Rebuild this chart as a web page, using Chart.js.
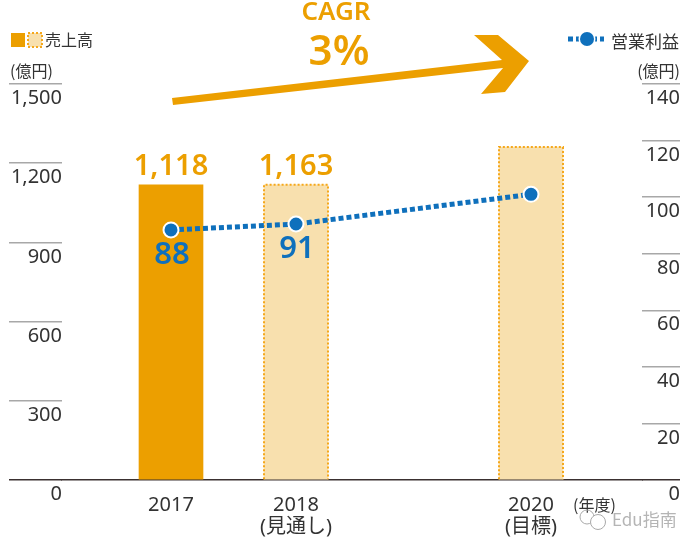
<!DOCTYPE html>
<html>
<head>
<meta charset="utf-8">
<style>
html, body { margin: 0; padding: 0; background: #fff; }
canvas { display: block; }
</style>
<script src="https://cdn.jsdelivr.net/npm/chart.js@4"></script>
</head>
<body>
<canvas id="chart" width="700" height="551"></canvas>
<script>
var FONT = '"Noto Sans", "Noto Sans CJK JP", sans-serif';
var JP = '"Noto Sans CJK JP", sans-serif';
var ORANGE = "#ec9f00";
var PALE = "#f8e0ae";
var DOT = "#f5a81c";
var BLUE = "#0f70bc";
var TEXT = "#333333";

// x is a year axis, 2020 is drawn a bit closer than true spacing in the picture
var years = [2017, 2018, 2019.88];
var yearLabels = [["2017"], ["2018", "(見通し)"], ["2020", "(目標)"]];

// bar heights as drawn (the 2018 bar is drawn level with 2017 in the picture)
var salesBars = [1118, 1118, 1261];
var salesLabels = ["1,118", "1,163", ""];
var profit = [88.4, 90.5, 101];
var profitLabels = ["88", "91", ""];

var leftTicks = [0, 300, 600, 900, 1200, 1500];
var rightTicks = [0, 20, 40, 60, 80, 100, 120, 140];

function pairs(ys) {
    return ys.map(function (y, i) { return { x: years[i], y: y }; });
}

function text(ctx, str, x, y, font, color, align) {
    ctx.font = font;
    ctx.fillStyle = color;
    ctx.textAlign = align || "left";
    ctx.textBaseline = "middle";
    ctx.fillText(str, x, y);
}

function tickColor(c) {
    return c.tick.value === 0 ? "#3a3030" : "#a8a8a8";
}

function setTicks(list) {
    return function (axis) {
        axis.ticks = list.map(function (v) { return { value: v }; });
    };
}

// dotted outline for the forecast bars, drawn before the line goes on top
var barOutline = {
    id: "barOutline",
    afterDatasetDraw: function (chart, args) {
        if (args.index !== 1) return;
        var ctx = chart.ctx;
        args.meta.data.forEach(function (bar, i) {
            if (i === 0) return;
            var left = bar.x - bar.width / 2, right = bar.x + bar.width / 2;
            ctx.save();
            ctx.strokeStyle = DOT;
            ctx.lineWidth = 2;
            ctx.setLineDash([2, 2]);
            ctx.beginPath();
            ctx.moveTo(left, bar.base);
            ctx.lineTo(left, bar.y);
            ctx.lineTo(right, bar.y);
            ctx.lineTo(right, bar.base);
            ctx.stroke();
            ctx.restore();
        });
    }
};

var extras = {
    id: "extras",
    afterDraw: function (chart) {
        var ctx = chart.ctx;
        ctx.save();

        // value labels
        var bars = chart.getDatasetMeta(1).data;
        var pts = chart.getDatasetMeta(0).data;
        salesLabels.forEach(function (s, i) {
            if (s) text(ctx, s, bars[i].x, bars[i].y - 18, "600 29px " + FONT, ORANGE, "center");
        });
        profitLabels.forEach(function (s, i) {
            if (s) text(ctx, s, pts[i].x + 1, pts[i].y + 25, "600 31px " + FONT, BLUE, "center");
        });

        // CAGR arrow
        ctx.fillStyle = ORANGE;
        ctx.beginPath();
        ctx.moveTo(172, 98);
        ctx.lineTo(502, 60);
        ctx.lineTo(474, 35);
        ctx.lineTo(498, 35);
        ctx.lineTo(529, 61);
        ctx.lineTo(505, 92);
        ctx.lineTo(481, 94);
        ctx.lineTo(503, 68);
        ctx.lineTo(173, 105);
        ctx.closePath();
        ctx.fill();
        text(ctx, "CAGR", 336, 13, "600 26px " + FONT, ORANGE, "center");
        text(ctx, "3%", 339, 53, "600 42px " + FONT, ORANGE, "center");

        // left legend
        ctx.fillStyle = ORANGE;
        ctx.fillRect(11, 33, 14, 14);
        ctx.fillStyle = PALE;
        ctx.fillRect(28, 33, 14, 14);
        ctx.strokeStyle = DOT;
        ctx.lineWidth = 2;
        ctx.setLineDash([2, 2]);
        ctx.strokeRect(28, 33, 14, 14);
        ctx.setLineDash([]);
        text(ctx, "売上高", 45, 40, "16px " + JP, TEXT);

        // right legend
        ctx.strokeStyle = BLUE;
        ctx.lineWidth = 5;
        ctx.setLineDash([5, 3]);
        ctx.beginPath();
        ctx.moveTo(568, 39);
        ctx.lineTo(604, 39);
        ctx.stroke();
        ctx.setLineDash([]);
        ctx.beginPath();
        ctx.arc(587, 39, 8.5, 0, Math.PI * 2);
        ctx.fillStyle = "#fff";
        ctx.fill();
        ctx.beginPath();
        ctx.arc(587, 39, 7, 0, Math.PI * 2);
        ctx.fillStyle = BLUE;
        ctx.fill();
        text(ctx, "営業利益", 611, 42, "17px " + JP, TEXT);

        // units
        text(ctx, "(億円)", 10, 71, "16px " + JP, TEXT);
        text(ctx, "(億円)", 680, 71, "16px " + JP, TEXT, "right");
        text(ctx, "(年度)", 573, 505, "16px " + JP, TEXT);

        // watermark
        ctx.strokeStyle = "#a9a9a9";
        ctx.lineWidth = 1;
        ctx.beginPath();
        ctx.arc(587, 517, 7, 0, Math.PI * 2);
        ctx.stroke();
        ctx.beginPath();
        ctx.arc(598, 522, 7.5, 0, Math.PI * 2);
        ctx.fillStyle = "#fff";
        ctx.fill();
        ctx.stroke();
        text(ctx, "Edu指南", 612, 520, "17px " + JP, "#b5b5b5");

        ctx.restore();
    }
};

new Chart(document.getElementById("chart"), {
    type: "bar",
    data: {
        datasets: [{
            type: "line",
            data: pairs(profit),
            yAxisID: "yRight",
            order: 1,
            borderColor: BLUE,
            borderWidth: 5,
            borderDash: [5, 3],
            tension: 0,
            pointRadius: 7.5,
            pointBorderWidth: 2,
            pointBackgroundColor: BLUE,
            pointBorderColor: "#fff"
        }, {
            type: "bar",
            data: pairs(salesBars),
            yAxisID: "yLeft",
            order: 2,
            barThickness: 64,
            backgroundColor: [ORANGE, PALE, PALE]
        }]
    },
    options: {
        responsive: false,
        animation: false,
        layout: { padding: { left: 9, right: 20, top: 84, bottom: 0 } },
        plugins: { legend: { display: false }, tooltip: { enabled: false } },
        font: { family: FONT },
        scales: {
            x: {
                type: "linear",
                offset: false,
                min: 2016.128,
                max: 2020.768,
                afterBuildTicks: setTicks(years),
                afterFit: function (a) { a.height = 71; },
                grid: { display: false },
                border: { color: "#3a3030", width: 1.5 },
                ticks: {
                    autoSkip: false,
                    maxRotation: 0,
                    padding: 6,
                    color: TEXT,
                    font: { size: 20, family: FONT, lineHeight: 1.1 },
                    callback: function (v) {
                        return yearLabels[years.indexOf(v)];
                    }
                }
            },
            yLeft: {
                position: "left",
                min: 0,
                max: 1500,
                afterBuildTicks: setTicks(leftTicks),
                afterFit: function (a) { a.width = 53; },
                border: { display: false },
                grid: { drawOnChartArea: false, tickLength: 53, lineWidth: 1.5, color: tickColor },
                ticks: {
                    padding: -53,
                    labelOffset: 14.5,
                    color: TEXT,
                    font: { size: 20, family: FONT },
                    callback: function (v) { return v.toLocaleString("en-US"); }
                }
            },
            yRight: {
                position: "right",
                min: 0,
                max: 140,
                afterBuildTicks: setTicks(rightTicks),
                afterFit: function (a) { a.width = 38; },
                border: { display: false },
                grid: { drawOnChartArea: false, tickLength: 38, lineWidth: 1.5, color: tickColor },
                ticks: {
                    padding: -34,
                    labelOffset: 14.5,
                    crossAlign: "far",
                    color: TEXT,
                    font: { size: 20, family: FONT }
                }
            }
        }
    },
    plugins: [barOutline, extras]
});
</script>
</body>
</html>
